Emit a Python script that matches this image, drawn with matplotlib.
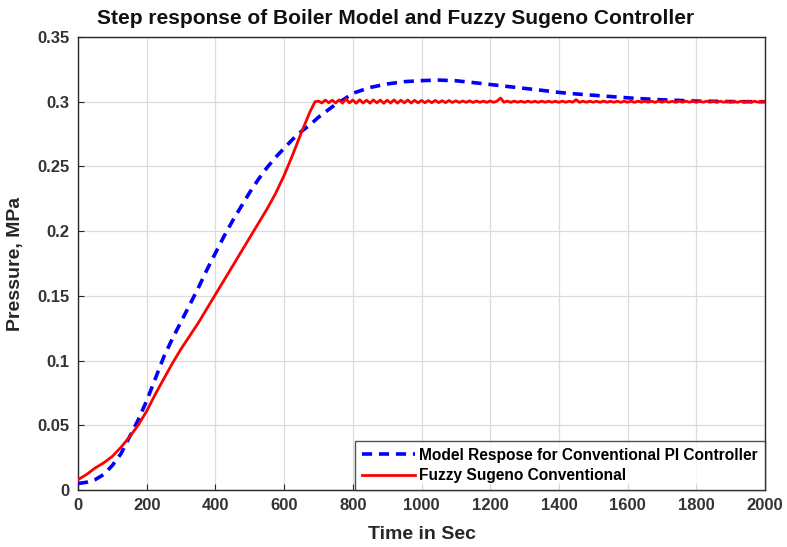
import matplotlib
matplotlib.use("Agg")
import matplotlib.pyplot as plt

plt.rcParams['font.family'] = ['Liberation Sans', 'DejaVu Sans']
plt.rcParams['font.weight'] = 'bold'

# ---- data ----
pi_t = [0, 25, 50, 75, 100, 125, 150, 175, 200, 225, 250, 275, 300, 325, 350, 375,
        400, 425, 450, 475, 500, 525, 550, 575, 600, 625, 650, 675, 700, 725, 750,
        775, 800, 850, 900, 950, 1000, 1050, 1100, 1150, 1200, 1250, 1300, 1350,
        1400, 1450, 1500, 1550, 1600, 1650, 1700, 1750, 1800, 1850, 1900, 1950, 2000]
pi_p = [0.005, 0.006, 0.008, 0.012, 0.019, 0.028, 0.041, 0.054, 0.069, 0.086, 0.103,
        0.117, 0.130, 0.143, 0.156, 0.170, 0.183, 0.196, 0.208, 0.219, 0.230, 0.240,
        0.249, 0.257, 0.264, 0.271, 0.277, 0.282, 0.288, 0.293, 0.298, 0.302, 0.3065,
        0.311, 0.3137, 0.3155, 0.3163, 0.3167, 0.3162, 0.3148, 0.3133, 0.3118, 0.3103,
        0.3088, 0.3072, 0.3060, 0.3050, 0.3040, 0.3030, 0.3022, 0.3015, 0.3010,
        0.3005, 0.3003, 0.3001, 0.3000, 0.3000]

fz_rise_t = [0, 25, 50, 75, 100, 125, 150, 175, 200, 225, 250, 275, 300, 325, 350,
             375, 400, 425, 450, 475, 500, 525, 550, 575, 600, 625, 650, 675, 690]
fz_rise_p = [0.008, 0.012, 0.017, 0.021, 0.026, 0.033, 0.041, 0.050, 0.061, 0.074,
             0.086, 0.098, 0.109, 0.119, 0.129, 0.140, 0.151, 0.162, 0.173, 0.184,
             0.195, 0.206, 0.217, 0.229, 0.243, 0.259, 0.276, 0.292, 0.300]
fz_osc_t = list(range(700, 2001, 10))
fz_osc_p = [
    0.3005, 0.2990, 0.3013, 0.2992, 0.3012, 0.2990, 0.3014, 0.2989, 0.3022, 0.2991,
    0.3013, 0.2988, 0.3015, 0.2990, 0.3012, 0.2989, 0.3014, 0.2991, 0.3013, 0.2988,
    0.3012, 0.2990, 0.3014, 0.2989, 0.3012, 0.2991, 0.3013, 0.2990, 0.3011, 0.2991,
    0.3010, 0.2992, 0.3009, 0.2992, 0.3010, 0.2993, 0.3008, 0.2993, 0.3009, 0.2994,
    0.3007, 0.2994, 0.3006, 0.2995, 0.3007, 0.2994, 0.3006, 0.2995, 0.3005, 0.2995,
    0.3006, 0.2995, 0.3005, 0.3028, 0.2996, 0.3005, 0.2995, 0.3005, 0.2996, 0.3004,
    0.2995, 0.3005, 0.2996, 0.3004, 0.2995, 0.3005, 0.2996, 0.3004, 0.2996, 0.3004,
    0.2995, 0.3005, 0.2996, 0.3004, 0.2996, 0.3016, 0.2995, 0.3004, 0.2996, 0.3004,
    0.2996, 0.3004, 0.2995, 0.3005, 0.2996, 0.3004, 0.2996, 0.3004, 0.2995, 0.3004,
    0.2996, 0.3004, 0.2995, 0.3005, 0.2996, 0.3004, 0.2996, 0.3004, 0.2995, 0.3005,
    0.2996, 0.3004, 0.2996, 0.3004, 0.2995, 0.3004, 0.2996, 0.3005, 0.2996, 0.3004,
    0.2995, 0.3004, 0.2996, 0.3004, 0.2996, 0.3005, 0.2995, 0.3004, 0.2996, 0.3004,
    0.2996, 0.3004, 0.2995, 0.3004, 0.2996, 0.3005, 0.2996, 0.3004, 0.2996, 0.3004,
    0.3000]

xticks = [0, 200, 400, 600, 800, 1000, 1200, 1400, 1600, 1800, 2000]
yticks = [0, 0.05, 0.1, 0.15, 0.2, 0.25, 0.3, 0.35]
ytick_labels = ['0', '0.05', '0.1', '0.15', '0.2', '0.25', '0.3', '0.35']
labels = ['Model Respose for Conventional PI Controller', 'Fuzzy Sugeno Conventional']
title = 'Step response of Boiler Model and Fuzzy Sugeno Controller'

fz_t = fz_rise_t + fz_osc_t
fz_p = fz_rise_p + fz_osc_p

fig = plt.figure(figsize=(7.87, 5.47), dpi=100)
ax = fig.add_axes([78/787, 57/547, 687/787, 453/547])

ax.plot(pi_t, pi_p, color='#0000ff', linestyle=(0, (2.8, 1.9)), linewidth=2.6, label=labels[0], zorder=3)
ax.plot(fz_t, fz_p, color='#ff0000', linewidth=2.0, label=labels[1], zorder=4)

ax.set_xlim(0, 2000)
ax.set_ylim(0, 0.35)
ax.set_xticks(xticks)
ax.set_yticks(yticks)
ax.set_yticklabels(ytick_labels)
ax.grid(True, color='#dcdcdc', linewidth=0.9)
ax.set_axisbelow(True)
ax.tick_params(direction='in', length=4, color='#262626', labelsize=12, labelcolor='#333333', pad=6)
for s in ax.spines.values():
    s.set_color('#262626')
    s.set_linewidth(1.0)

fig.text(395.5/787, 1 - 18/547, title, fontsize=15, fontweight='bold', ha='center', va='center', color='#111111')
ax.set_xlabel('Time in Sec', fontsize=14, fontweight='bold', color='#262626', labelpad=9)
ax.set_ylabel('Pressure, MPa', fontsize=14, fontweight='bold', color='#262626', labelpad=10)

leg = ax.legend(loc='lower right', borderaxespad=0, fontsize=11.2, frameon=True, fancybox=False,
                edgecolor='#262626', handlelength=3.4, handletextpad=0.3, borderpad=0.45,
                labelspacing=0.35)
leg.get_frame().set_linewidth(1.0)

fig.savefig('out.png', dpi=100)
